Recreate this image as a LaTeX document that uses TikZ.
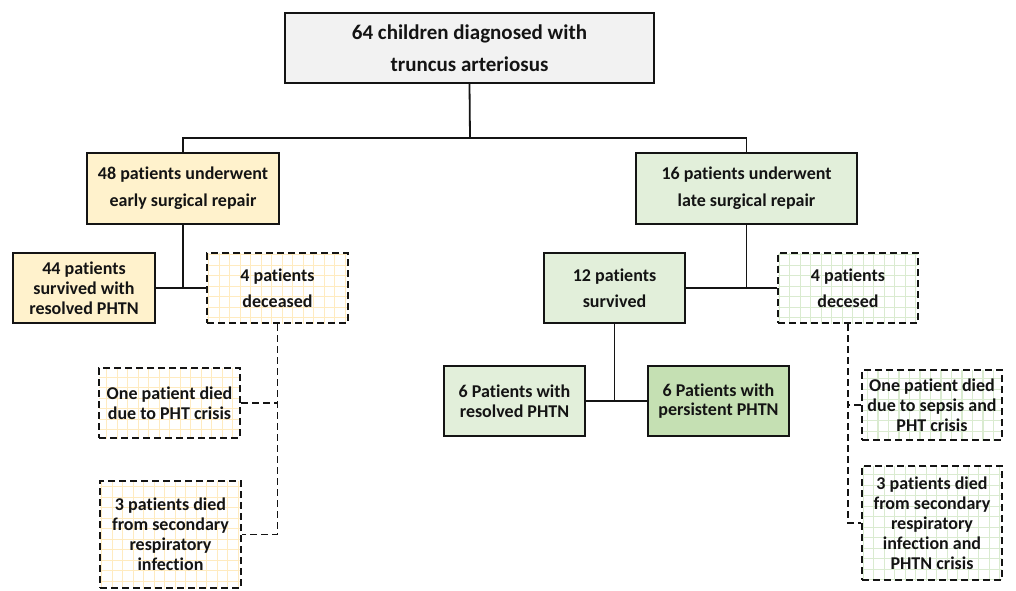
\documentclass[tikz,border=0pt]{standalone}
\usepackage{fontspec}
\setmainfont[Ligatures=NoCommon]{Carlito}
\definecolor{topfill}{HTML}{F2F2F2}
\definecolor{yfill}{HTML}{FFF2CC}
\definecolor{gfill}{HTML}{E2EFDA}
\definecolor{gdark}{HTML}{C5E0B3}
\definecolor{ygrid}{HTML}{FFEBC0}
\definecolor{ggrid}{HTML}{DAEBD0}
\definecolor{ink}{HTML}{141414}
\tikzset{
  box/.style={draw=ink, line width=2pt, align=center, inner sep=0pt,
    text=ink, font=\fontsize{18}{20}\selectfont\bfseries},
  dbox/.style={box, dash pattern=on 7pt off 4pt},
  ygridbox/.style={dbox, fill=white, path picture={
    \draw[ygrid, solid, line width=1.1pt] ([xshift=-20pt,yshift=-20pt]path picture bounding box.south west) grid[step=10.5pt] ([xshift=20pt,yshift=20pt]path picture bounding box.north east);}},
  ggridbox/.style={dbox, fill=white, path picture={
    \draw[ggrid, solid, line width=1.1pt] ([xshift=-20pt,yshift=-20pt]path picture bounding box.south west) grid[step=10.5pt] ([xshift=20pt,yshift=20pt]path picture bounding box.north east);}},
  conn/.style={draw=ink, line width=1.8pt},
  dconn/.style={conn, dash pattern=on 7pt off 4pt},
}
\begin{document}
\begin{tikzpicture}[x=1pt, y=-1pt]
\fill[white] (0,0) rectangle (1016,590);
\useasboundingbox (0,0) rectangle (1016,590);

\node[box, fill=topfill, minimum width=369pt, minimum height=70pt,
  font=\fontsize{21}{31.6}\selectfont\bfseries] (top) at (469.5,48)
  {64 children diagnosed with\\truncus arteriosus};

\node[box, fill=yfill, minimum width=192pt, minimum height=71pt,
  font=\fontsize{18}{27}\selectfont\bfseries] (early) at (183,188.5)
  {48 patients underwent\\early surgical repair};
\node[box, fill=gfill, minimum width=221pt, minimum height=71pt,
  font=\fontsize{18}{27}\selectfont\bfseries] (late) at (746.5,188.5)
  {16 patients underwent\\late surgical repair};

\node[box, fill=yfill, minimum width=142pt, minimum height=70pt] (surv44) at (84,288)
  {44 patients\\survived with\\resolved PHTN};
\node[ygridbox, minimum width=141pt, minimum height=70pt,
  font=\fontsize{18}{26}\selectfont\bfseries] (dec4L) at (277.5,288)
  {4 patients\\deceased};
\node[ygridbox, minimum width=141pt, minimum height=70pt] (oneL) at (169.5,403)
  {One patient died\\due to PHT crisis};
\node[ygridbox, minimum width=141pt, minimum height=107pt] (threeL) at (170.5,534.5)
  {3 patients died\\from secondary\\respiratory\\infection};

\node[box, fill=gfill, minimum width=141pt, minimum height=70pt,
  font=\fontsize{18}{26}\selectfont\bfseries] (surv12) at (614.5,288)
  {12 patients\\survived};
\node[ggridbox, minimum width=140pt, minimum height=70pt,
  font=\fontsize{18}{26}\selectfont\bfseries] (dec4R) at (848,288)
  {4 patients\\decesed};
\node[box, fill=gfill, minimum width=141pt, minimum height=70pt,
  font=\fontsize{18}{19.5}\selectfont\bfseries] (res6) at (514.5,401)
  {6 Patients with\\resolved PHTN};
\node[box, fill=gdark, minimum width=141pt, minimum height=70pt,
  font=\fontsize{18}{19.5}\selectfont\bfseries] (pers6) at (718.5,401)
  {6 Patients with\\persistent PHTN};
\node[ggridbox, minimum width=140pt, minimum height=70pt] (oneR) at (932,405)
  {One patient died\\due to sepsis and\\PHT crisis};
\node[ggridbox, minimum width=140pt, minimum height=114pt] (threeR) at (932,523)
  {3 patients died\\from secondary\\respiratory\\infection and\\PHTN crisis};

\coordinate (j1) at (470,138);
\draw[conn] (top.south) -- (j1);
\draw[conn] (early.north) |- (j1) -| (late.north);

\draw[conn] (early.south) -- (early.south |- surv44.east);
\draw[conn] (surv44.east) -- (dec4L.west);
\draw[dconn] (dec4L.south) |- (threeL.east);
\draw[dconn] (oneL.east) -- (oneL.east -| dec4L.south);

\draw[conn] (late.south) -- (late.south |- surv12.east);
\draw[conn] (surv12.east) -- (dec4R.west);
\draw[conn] (surv12.south) -- (surv12.south |- res6.east);
\draw[conn] (res6.east) -- (pers6.west);
\draw[dconn] (dec4R.south) |- (threeR.west);
\draw[dconn] (oneR.west) -- (oneR.west -| dec4R.south);
\end{tikzpicture}
\end{document}
